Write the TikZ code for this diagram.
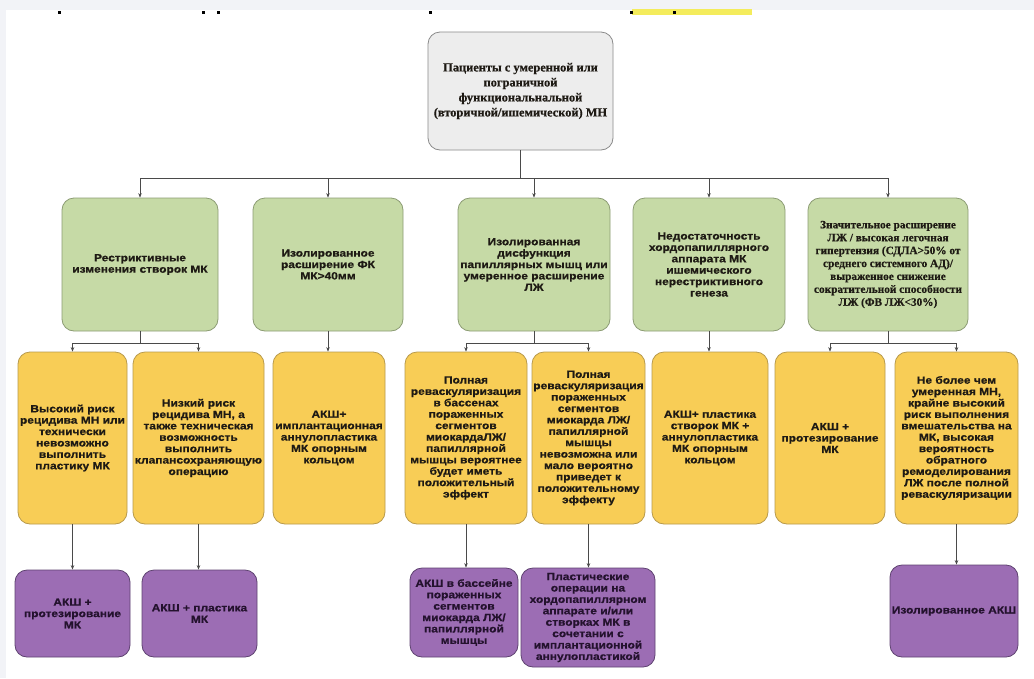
\documentclass[tikz,border=0pt]{standalone}
\usepackage{fontspec}
\setmainfont{Liberation Sans}
\newfontfamily\boxsans[FakeStretch=1.15,FakeBold=0.8]{Liberation Sans}
\newfontfamily\boxserif[FakeBold=0.6]{Liberation Serif}
\usetikzlibrary{arrows.meta}
\definecolor{gfill}{HTML}{C6DAA6}
\definecolor{gdraw}{HTML}{8C9C74}
\definecolor{yfill}{HTML}{F8CD56}
\definecolor{ydraw}{HTML}{B89A4C}
\definecolor{pfill}{HTML}{9C6DB4}
\definecolor{pdraw}{HTML}{5E4270}
\definecolor{tfill}{HTML}{EDEDED}
\definecolor{tdraw}{HTML}{8A8A8A}
\definecolor{txt}{HTML}{1E1A14}
\definecolor{ptxt}{HTML}{24122E}
\definecolor{lnk}{HTML}{4A4A4A}
\definecolor{bgray}{HTML}{F2F3F7}
\definecolor{hl}{HTML}{F4EC5C}
\begin{document}
\begin{tikzpicture}[x=1pt,y=-1pt,
  box/.style={rectangle, rounded corners=12pt, line width=0.8pt, inner sep=0pt, align=center, text=txt},
  sfont/.style={font=\boxsans\bfseries\fontsize{10.4}{11.4}\selectfont},
  topbox/.style={box, fill=tfill, draw=tdraw, font=\boxserif\bfseries\fontsize{12.4}{15}\selectfont},
  gbox/.style={box, sfont, fill=gfill, draw=gdraw, minimum height=133pt},
  gserif/.style={box, fill=gfill, draw=gdraw, minimum height=133pt, font=\boxserif\bfseries\fontsize{11.3}{12.9}\selectfont},
  ybox/.style={box, sfont, fill=yfill, draw=ydraw, minimum height=172pt},
  pbox/.style={box, sfont, fill=pfill, draw=pdraw, text=ptxt},
  link/.style={draw=lnk, line width=0.6pt, -{Stealth[length=4.5pt,width=3.5pt]}},
  plain/.style={draw=lnk, line width=0.6pt}
]
\fill[bgray] (0,0) rectangle (1034,678);
\fill[white] (6,10) rectangle (1034,678);
\useasboundingbox (0,0) rectangle (1034,678);
% remnants of cropped text at the top
\fill[hl] (632,9) rectangle (752,15);
\foreach \xx in {58,202,217,429,630,673} {\fill[black] (\xx,11) rectangle ++(2.5,2.5);}

% top node
\node[topbox, minimum width=185pt, minimum height=118pt] (top) at (520.5,91)
  {Пациенты с умеренной или\\пограничной\\функциональнальной\\(вторичной/ишемической) МН};

% green row
\node[gbox, minimum width=156pt] (g1) at (140,264.5) {Рестриктивные\\изменения створок МК};
\node[gbox, minimum width=150pt] (g2) at (328,264.5) {Изолированное\\расширение ФК\\МК>40мм};
\node[gbox, minimum width=152pt] (g3) at (534,264.5) {Изолированная\\дисфункция\\папиллярных мышц или\\умеренное расширение\\ЛЖ};
\node[gbox, minimum width=152pt] (g4) at (709,264.5) {Недостаточность\\хордопапиллярного\\аппарата МК\\ишемического\\нерестриктивного\\генеза};
\node[gserif, minimum width=160pt] (g5) at (888,264.5) {Значительное расширение\\ЛЖ / высокая легочная\\гипертензия (СДЛА>50\% от\\среднего системного АД)/\\выраженное снижение\\сократительной способности\\ЛЖ (ФВ ЛЖ<30\%)};

% yellow row
\node[ybox, minimum width=109pt] (y1) at (72.5,438) {Высокий риск\\рецидива МН или\\технически\\невозможно\\выполнить\\пластику МК};
\node[ybox, minimum width=131pt] (y2) at (198.5,438) {Низкий риск\\рецидива МН, а\\также техническая\\возможность\\выполнить\\клапансохраняющую\\операцию};
\node[ybox, minimum width=112pt] (y3) at (329,438) {АКШ+\\имплантационная\\аннулопластика\\МК опорным\\кольцом};
\node[ybox, minimum width=122pt] (y4) at (466,438) {Полная\\реваскуляризация\\в бассенах\\пораженных\\сегментов\\миокардаЛЖ/\\папиллярной\\мышцы вероятнее\\будет иметь\\положительный\\эффект};
\node[ybox, minimum width=113pt] (y5) at (588.5,438) {Полная\\реваскуляризация\\пораженных\\сегментов\\миокарда ЛЖ/\\папиллярной\\мышцы\\невозможна или\\мало вероятно\\приведет к\\положительному\\эффекту};
\node[ybox, minimum width=116pt] (y6) at (710,438) {АКШ+ пластика\\створок МК +\\аннулопластика\\МК опорным\\кольцом};
\node[ybox, minimum width=110pt] (y7) at (830,438) {АКШ +\\протезирование\\МК};
\node[ybox, minimum width=123pt] (y8) at (956.5,438) {Не более чем\\умеренная МН,\\крайне высокий\\риск выполнения\\вмешательства на\\МК, высокая\\вероятность\\обратного\\ремоделирования\\ЛЖ после полной\\реваскуляризации};

% purple row
\node[pbox, minimum width=115pt, minimum height=87pt] (p1) at (72.5,613.5) {АКШ +\\протезирование\\МК};
\node[pbox, minimum width=115pt, minimum height=87pt] (p2) at (199.5,613.5) {АКШ + пластика\\МК};
\node[pbox, minimum width=108pt, minimum height=89pt] (p3) at (464,612.5) {АКШ в бассейне\\пораженных\\сегментов\\миокарда ЛЖ/\\папиллярной\\мышцы};
\node[pbox, minimum width=134pt, minimum height=99pt] (p4) at (588,617.5) {Пластические\\операции на\\хордопапиллярном\\аппарате и/или\\створках МК в\\сочетании с\\имплантационной\\аннулопластикой};
\node[pbox, minimum width=128pt, minimum height=92pt] (p5) at (954,611) {Изолированное АКШ};

% level 1 connectors
\coordinate (bus) at (520.5,178);
\draw[plain] (top.south) -- (bus);
\foreach \g in {g1,g2,g3,g4,g5} {\draw[link] (bus) -| (\g.north);}

% level 2 connectors
\coordinate (b1) at (140,343);
\draw[plain] (g1.south) -- (b1);
\draw[link] (b1) -| (y1.north);
\draw[link] (b1) -| (y2.north);
\draw[link] (g2.south) -- (g2.south |- y3.north);
\coordinate (b3) at (534,343);
\draw[plain] (g3.south) -- (b3);
\draw[link] (b3) -| (y4.north);
\draw[link] (b3) -| (y5.north);
\draw[link] (g4.south) -- (g4.south |- y6.north);
\coordinate (b5) at (888,343);
\draw[plain] (g5.south) -- (b5);
\draw[link] (b5) -| (y7.north);
\draw[link] (b5) -| (y8.north);

% level 3 connectors
\draw[link] (y1.south) -- (y1.south |- p1.north);
\draw[link] (y2.south) -- (y2.south |- p2.north);
\draw[link] (y4.south) -- (y4.south |- p3.north);
\draw[link] (y5.south) -- (y5.south |- p4.north);
\draw[link] (y8.south) -- (y8.south |- p5.north);
\end{tikzpicture}
\end{document}
